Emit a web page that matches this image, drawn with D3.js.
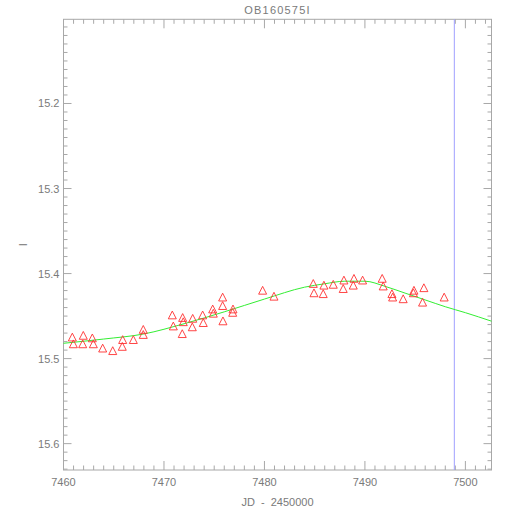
<!DOCTYPE html>
<html><head><meta charset="utf-8">
<script src="https://cdn.jsdelivr.net/npm/d3@7"></script>
<style>body{margin:0;background:#fff}svg{display:block}text{font-family:"Liberation Sans",Arial,sans-serif;fill:#7a7a7a}</style>
</head><body>
<script>
const title = "OB160575I";
const xLabel = "JD - 2450000";
const yLabel = "I";
const xDomain = [7460, 7502.6];
const yDomain = [15.101, 15.631];
const xTicks = [7460, 7470, 7480, 7490, 7500];
const yTicks = [15.2, 15.3, 15.4, 15.5, 15.6];
const markerLineJD = 7498.9;

const obsJD = [7460.88,7460.98,7461.97,7461.91,7462.87,7462.97,7463.90,7464.90,7465.89,7465.85,7466.95,7467.94,7467.94,
  7470.83,7470.93,7471.86,7471.92,7471.82,7472.86,7472.82,7473.85,7473.91,7474.85,7474.91,7475.84,7475.84,7475.87,
  7476.87,7476.84,7479.82,7480.95,7484.86,7484.93,7485.92,7485.85,7486.85,7487.91,7487.84,7488.91,7488.84,7489.77,
  7491.72,7491.82,7492.69,7492.76,7493.81,7494.88,7494.83,7495.87,7495.74,7497.89];
const obsMag = [15.475,15.483,15.473,15.483,15.476,15.483,15.488,15.491,15.478,15.486,15.478,15.466,15.472,
  15.449,15.462,15.452,15.457,15.471,15.453,15.463,15.449,15.458,15.442,15.447,15.428,15.438,15.456,
  15.442,15.446,15.420,15.427,15.412,15.423,15.414,15.424,15.413,15.408,15.418,15.406,15.414,15.408,
  15.406,15.415,15.424,15.428,15.430,15.420,15.423,15.417,15.434,15.428];

const modelJD = [7460,7464,7468,7472,7476,7480,7484,7486,7488,7490,7492,7494,7496,7498,7500,7502.6];
const modelMag = [15.482,15.477,15.471,15.459,15.445,15.430,15.416,15.412,15.409,15.409,15.415,15.423,15.431,15.439,15.446,15.456];

const W = 510, H = 510;
const m = {left: 63.5, right: 491.5, top: 19.3, bottom: 470};
const svg = d3.select("body").append("svg").attr("width", W).attr("height", H);
const x = d3.scaleLinear().domain(xDomain).range([m.left, m.right]);
const y = d3.scaleLinear().domain(yDomain).range([m.top, m.bottom]);
const axisColor = "#a8a8a8";

// frame
svg.append("rect").attr("x", m.left).attr("y", m.top)
  .attr("width", m.right - m.left).attr("height", m.bottom - m.top)
  .attr("fill", "none").attr("stroke", axisColor).attr("stroke-width", 1);

const xMinor = d3.range(7460, 7503, 1);
const yMinor = d3.range(15.11, 15.631, 0.01).map(v => +v.toFixed(2));

function tickG(vals, scale, orient, len) {
  const g = svg.append("g");
  vals.forEach(v => {
    const p = scale(v);
    let a;
    if (orient === "bottom") a = [p, m.bottom, p, m.bottom - len];
    else if (orient === "top") a = [p, m.top, p, m.top + len];
    else if (orient === "left") a = [m.left, p, m.left + len, p];
    else a = [m.right, p, m.right - len, p];
    g.append("line").attr("x1", a[0]).attr("y1", a[1]).attr("x2", a[2]).attr("y2", a[3])
      .attr("stroke", axisColor).attr("stroke-width", 1);
  });
}
tickG(xMinor.filter(v => xTicks.indexOf(v) < 0), x, "bottom", 4.5);
tickG(xMinor.filter(v => xTicks.indexOf(v) < 0), x, "top", 4.5);
tickG(xTicks, x, "bottom", 9);
tickG(xTicks, x, "top", 9);
const yMin2 = yMinor.filter(v => !yTicks.some(t => Math.abs(t - v) < 1e-6));
tickG(yMin2, y, "left", 4);
tickG(yMin2, y, "right", 4);
tickG(yTicks, y, "left", 8);
tickG(yTicks, y, "right", 8);

// tick labels
svg.append("g").selectAll("text").data(xTicks).join("text")
  .attr("x", d => x(d)).attr("y", 486).attr("text-anchor", "middle")
  .attr("font-size", 11).text(d => d);
svg.append("g").selectAll("text").data(yTicks).join("text")
  .attr("x", 59.5).attr("y", d => y(d) + 4).attr("text-anchor", "end")
  .attr("font-size", 11).text(d => d.toFixed(1));

svg.append("text").attr("x", (m.left + m.right) / 2).attr("y", 14)
  .attr("text-anchor", "middle").attr("font-size", 11).attr("letter-spacing", 1.2).text(title);
svg.append("text").attr("x", (m.left + m.right) / 2).attr("y", 506)
  .attr("text-anchor", "middle").attr("font-size", 11).attr("word-spacing", 3).attr("xml:space", "preserve").text(xLabel);
svg.append("text").attr("transform", `translate(27,${(m.top + m.bottom) / 2}) rotate(-90)`)
  .attr("text-anchor", "middle").attr("font-size", 11).text(yLabel);

// vertical marker
svg.append("line").attr("x1", x(markerLineJD)).attr("x2", x(markerLineJD))
  .attr("y1", m.top).attr("y2", m.bottom).attr("stroke", "#a0a0ff").attr("stroke-width", 1);

// model curve
const model = modelJD.map((d, i) => [d, modelMag[i]]);
svg.append("path").datum(model)
  .attr("d", d3.line().x(d => x(d[0])).y(d => y(d[1])).curve(d3.curveMonotoneX))
  .attr("fill", "none").attr("stroke", "#33ee33").attr("stroke-width", 1);

// observations
const obs = obsJD.map((d, i) => [d, obsMag[i]]);
svg.append("g").selectAll("path").data(obs).join("path")
  .attr("transform", d => `translate(${x(d[0])},${y(d[1])})`)
  .attr("d", "M0,-4.2L4,3.6L-4,3.6Z")
  .attr("fill", "none").attr("stroke", "#ff3030").attr("stroke-width", 0.9);
</script>
</body></html>
